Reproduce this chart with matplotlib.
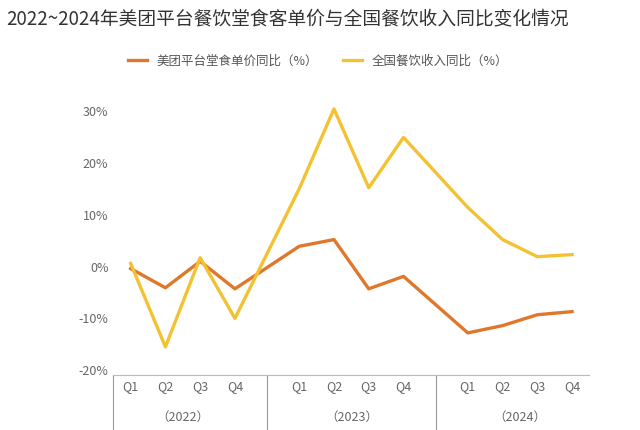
import matplotlib
matplotlib.use("Agg")
import matplotlib.pyplot as plt

quarters = ["Q1","Q2","Q3","Q4"]
years = ["（2022）","（2023）","（2024）"]
meituan = [-0.4,-4.1,1.0,-4.3, 3.9,5.2,-4.3,-1.9, -12.8,-11.4,-9.3,-8.7]
national = [0.6,-15.5,1.7,-10.0, 15.0,30.4,15.2,24.9, 11.4,5.2,1.9,2.3]
yticks = [-20,-10,0,10,20,30]

plt.rcParams["font.family"] = ["Noto Sans CJK SC"]
fig = plt.figure(figsize=(6.4,4.3), dpi=100)
ax = fig.add_axes([0.177, 0.127, 0.744, 0.651])
gap = 1.85
xs = [g*(3+gap) + i for g in range(3) for i in range(4)]
orange = "#E0782C"; yellow = "#F3C233"
ax.plot(xs, meituan, color=orange, lw=2.4, label="美团平台堂食单价同比（%）")
ax.plot(xs, national, color=yellow, lw=2.4, label="全国餐饮收入同比（%）")
ax.set_ylim(-21, 33)
ax.set_xlim(-0.5, xs[-1]+0.5)
ax.set_yticks(yticks)
ax.set_yticklabels([f"{v}%" for v in yticks], color="#666666", fontsize=9)
ax.set_xticks(xs)
ax.set_xticklabels(quarters*3, color="#666666", fontsize=9)
ax.tick_params(length=0)
for s in ["top","right","left"]:
    ax.spines[s].set_visible(False)
ax.spines["bottom"].set_color("#bbbbbb")
for g in range(3):
    c = g*(3+gap)+1.5
    ax.text(c, -0.15, years[g], transform=ax.get_xaxis_transform(), ha="center", va="center", fontsize=9, color="#666666")
for g in range(1,3):
    x = g*(3+gap) - gap/2
    ax.plot([x,x],[0,-0.2], transform=ax.get_xaxis_transform(), color="#999999", lw=0.8, clip_on=False)
ax.plot([-0.5,-0.5],[0,-0.2], transform=ax.get_xaxis_transform(), color="#999999", lw=0.8, clip_on=False)
ax.legend(loc="lower center", bbox_to_anchor=(0.43, 1.06), ncol=2, frameon=False, fontsize=9, labelcolor="#555555", handlelength=1.5)
fig.text(0.01, 0.955, "2022~2024年美团平台餐饮堂食客单价与全国餐饮收入同比变化情况", fontsize=13.5, color="#333333", va="center")
fig.savefig("out.png")
